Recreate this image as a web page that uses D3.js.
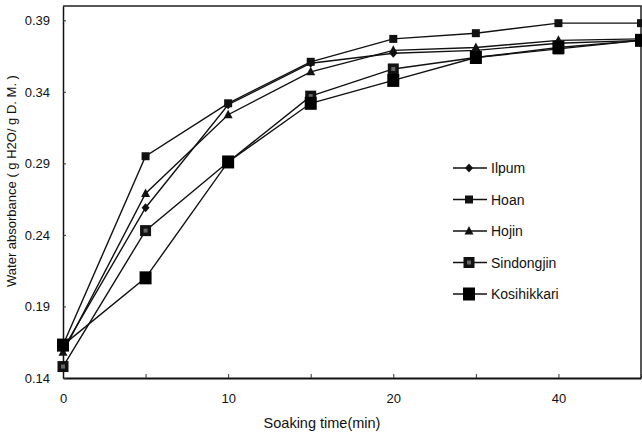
<!DOCTYPE html>
<head>
<style>
body { margin: 0; background: #fff; }
svg text { font-family: "Liberation Sans", Arial, sans-serif; fill: #111; }
</style>
</head>
<div id="container"></div>
<script src="https://d3js.org/d3.v7.min.js"></script>
<script>
// Soaking times (categorical axis, every other one is labelled)
const times = ["0", "5", "10", "15", "20", "30", "40", "50"];
const yTicks = [0.14, 0.19, 0.24, 0.29, 0.34, 0.39];

const ilpum       = [0.160, 0.259, 0.331, 0.360, 0.367, 0.369, 0.374, 0.376];
const hoan        = [0.163, 0.295, 0.332, 0.361, 0.377, 0.381, 0.388, 0.388];
const hojin       = [0.158, 0.269, 0.324, 0.354, 0.369, 0.371, 0.376, 0.377];
const sindongjin  = [0.148, 0.243, 0.291, 0.337, 0.356, 0.364, 0.370, 0.376];
const kosihikkari = [0.163, 0.210, 0.291, 0.332, 0.348, 0.364, 0.371, 0.376];

const series = [
    {name: "Ilpum", values: ilpum, shape: "diamond"},
    {name: "Hoan", values: hoan, shape: "smallSquare"},
    {name: "Hojin", values: hojin, shape: "triangle"},
    {name: "Sindongjin", values: sindongjin, shape: "midSquare"},
    {name: "Kosihikkari", values: kosihikkari, shape: "bigSquare"},
];

const width = 642;
const height = 437;
const marginTop = 6;
const marginRight = 1;
const marginBottom = 59;
const marginLeft = 63;

const x = d3.scalePoint()
    .domain(times)
    .range([marginLeft, width - marginRight]);

const y = d3.scaleLinear()
    .domain([0.14, 0.40])
    .range([height - marginBottom, marginTop]);

const svg = d3.create("svg")
    .attr("width", width)
    .attr("height", height);

// frame (top and right)
svg.append("path")
    .attr("fill", "none")
    .attr("stroke", "#222")
    .attr("stroke-width", 1.5)
    .attr("d", `M${marginLeft},${marginTop}H${width - marginRight}V${height - marginBottom}`);

// x axis
const xAxis = svg.append("g")
    .attr("transform", `translate(0,${height - marginBottom})`)
    .call(d3.axisBottom(x).tickSizeInner(-4).tickSizeOuter(0).tickPadding(16)
        .tickFormat((d, i) => i % 2 === 0 ? d : ""));
xAxis.select(".domain").attr("stroke", "#111").attr("stroke-width", 2);
xAxis.selectAll(".tick line").attr("stroke", "#333");
xAxis.selectAll("text").attr("font-size", 13);

// y axis
const yAxis = svg.append("g")
    .attr("transform", `translate(${marginLeft},0)`)
    .call(d3.axisLeft(y).tickValues(yTicks).tickSizeInner(-3).tickSizeOuter(0).tickPadding(13)
        .tickFormat(d3.format(".2f")));
yAxis.select(".domain").attr("stroke", "#111").attr("stroke-width", 1.5);
yAxis.selectAll(".tick line").attr("stroke", "#333");
yAxis.selectAll("text").attr("font-size", 13);

// axis titles
svg.append("text")
    .attr("x", 322)
    .attr("y", 428)
    .attr("text-anchor", "middle")
    .attr("font-size", 14.5)
    .text("Soaking time(min)");

svg.append("text")
    .attr("transform", `translate(16,181) rotate(-90)`)
    .attr("text-anchor", "middle")
    .attr("font-size", 13)
    .text("Water absorbance ( g H2O/ g D. M. )");

function marker(g, shape) {
    if (shape === "diamond") {
        g.append("path").attr("d", "M0,-4.5L4,0L0,4.5L-4,0Z").attr("fill", "#111");
    } else if (shape === "triangle") {
        g.append("path").attr("d", "M0,-5L4.5,3.5H-4.5Z").attr("fill", "#111");
    } else if (shape === "smallSquare") {
        g.append("rect").attr("x", -4).attr("y", -4).attr("width", 8).attr("height", 8).attr("fill", "#111");
    } else if (shape === "midSquare") {
        g.append("rect").attr("x", -5.5).attr("y", -5.5).attr("width", 11).attr("height", 11).attr("fill", "#111");
        g.append("rect").attr("x", -2).attr("y", -2).attr("width", 4).attr("height", 4).attr("fill", "#666");
    } else {
        g.append("rect").attr("x", -6).attr("y", -6.5).attr("width", 12).attr("height", 13).attr("fill", "#000");
    }
}

const line = d3.line()
    .x((d, i) => x(times[i]))
    .y(d => y(d));

for (const s of series) {
    svg.append("path")
        .attr("fill", "none")
        .attr("stroke", "#111")
        .attr("stroke-width", 1.4)
        .attr("d", line(s.values));
}
for (const s of series) {
    s.values.forEach((v, i) => {
        const g = svg.append("g").attr("transform", `translate(${x(times[i])},${y(v)})`);
        marker(g, s.shape);
    });
}

// legend
const legend = svg.append("g").attr("transform", "translate(453,168)");
series.forEach((s, i) => {
    const row = legend.append("g").attr("transform", `translate(0,${i * 31.5})`);
    row.append("line")
        .attr("x1", 0).attr("x2", 34)
        .attr("stroke", "#111").attr("stroke-width", 1.4);
    marker(row.append("g").attr("transform", "translate(16,0)"), s.shape);
    row.append("text")
        .attr("x", 38)
        .attr("y", 5)
        .attr("font-size", 14)
        .text(s.name);
});

container.append(svg.node());
</script>
